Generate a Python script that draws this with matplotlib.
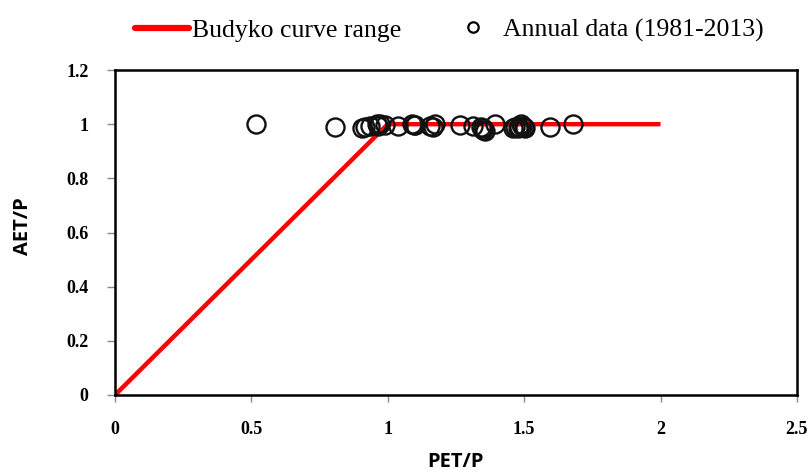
import matplotlib
matplotlib.use("Agg")
import matplotlib.pyplot as plt
from matplotlib.lines import Line2D

# Budyko curve range (energy limit / water limit)
budyko_x = [0.0, 1.0, 2.0]
budyko_y = [0.0, 1.0, 1.0]

# Annual data (1981-2013)
pet_p = [0.517, 0.806, 0.905, 0.917, 0.935, 0.96, 0.965, 0.99, 1.037, 1.09, 1.10,
         1.155, 1.165, 1.173, 1.265, 1.312, 1.35, 1.356, 1.349, 1.393, 1.459,
         1.465, 1.477, 1.482, 1.492, 1.503, 1.49, 1.595, 1.679, 1.097, 0.97,
         1.34, 1.5]
aet_p = [1.0, 0.99, 0.985, 0.99, 0.995, 1.0, 0.995, 0.998, 0.995, 1.0, 0.998,
         0.995, 0.99, 1.0, 0.998, 0.995, 0.985, 0.975, 0.98, 1.0, 0.985,
         0.99, 0.985, 0.99, 0.995, 0.985, 1.0, 0.99, 1.0, 0.998, 1.0,
         0.99, 0.99]

xticks = [0, 0.5, 1, 1.5, 2, 2.5]
xticklabels = ["0", "0.5", "1", "1.5", "2", "2.5"]
yticks = [0, 0.2, 0.4, 0.6, 0.8, 1.0, 1.2]
yticklabels = ["0", "0.2", "0.4", "0.6", "0.8", "1", "1.2"]

fig = plt.figure(figsize=(8.07, 4.70), dpi=100)
ax = fig.add_axes([0.1425, 0.1596, 0.845, 0.6914])

ax.plot(budyko_x, budyko_y, color="#ff0000", lw=3.2, solid_capstyle="butt", zorder=2)
ax.plot(pet_p, aet_p, linestyle="none", marker="o", markersize=13,
        markerfacecolor="none", markeredgecolor="#111111", markeredgewidth=1.7, zorder=3)

ax.set_xlim(0, 2.5)
ax.set_ylim(0, 1.2)
ax.set_xticks(xticks)
ax.set_xticklabels(xticklabels)
ax.set_yticks(yticks)
ax.set_yticklabels(yticklabels)

for lab in ax.get_xticklabels() + ax.get_yticklabels():
    lab.set_fontfamily("Liberation Serif")
    lab.set_fontweight("bold")
    lab.set_fontsize(13)

ax.tick_params(axis="x", direction="out", length=5, width=1, color="#888888", pad=14)
ax.tick_params(axis="y", direction="out", length=6, width=1, color="#888888", pad=13)

for sp in ax.spines.values():
    sp.set_linewidth(1.8)
    sp.set_color("black")

ax.set_xlabel("PET/P", fontfamily="Open Sans", fontweight="bold", fontsize=14.5)
ax.set_ylabel("AET/P", fontfamily="Open Sans", fontweight="bold", fontsize=14.5)
ax.xaxis.set_label_coords(0.5, -0.205)
ax.xaxis.label.set_va("center")
ax.yaxis.set_label_coords(-0.135, 0.52)
ax.yaxis.label.set_va("center")

prop = {"family": "Liberation Serif", "size": 18.5}
h1 = Line2D([0], [0], color="#ff0000", lw=4.5, solid_capstyle="round")
leg1 = fig.legend([h1], ["Budyko curve range"], loc="center left",
                  bbox_to_anchor=(0.1673, 0.936), frameon=False, prop=prop,
                  borderpad=0, borderaxespad=0, handlelength=2.1, handletextpad=0.1)
h2 = Line2D([0], [0], linestyle="none", marker="o", markersize=7.5,
            markerfacecolor="none", markeredgecolor="black", markeredgewidth=1.6)
leg2 = fig.legend([h2], ["Annual data (1981-2013)"], loc="center left",
                  bbox_to_anchor=(0.570, 0.936), frameon=False, prop=prop,
                  borderpad=0, borderaxespad=0, handlelength=1.0, handletextpad=0.66)

fig.savefig("out.png", dpi=100)
